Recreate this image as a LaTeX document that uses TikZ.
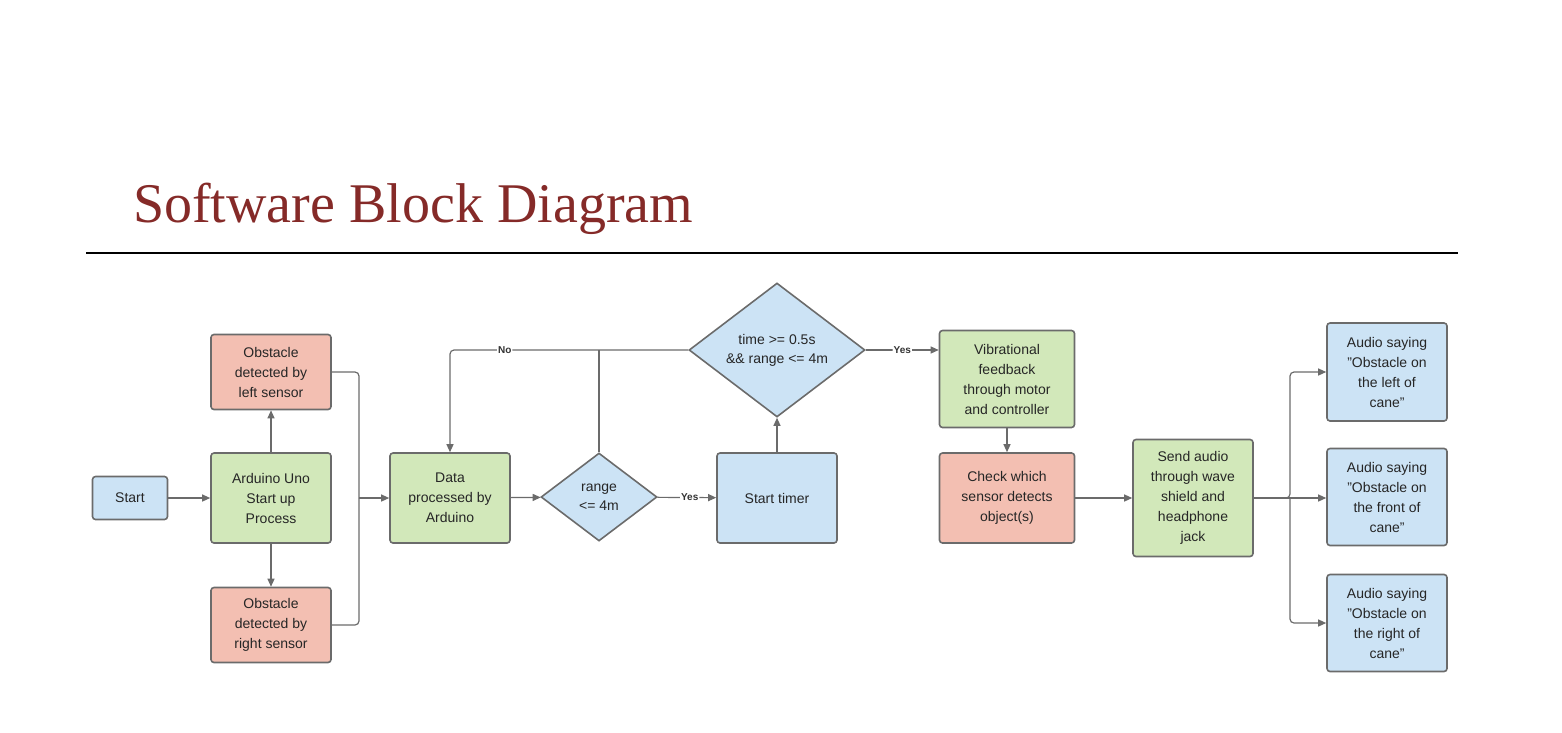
\documentclass[tikz,border=0pt]{standalone}
\usepackage{fontspec}
\setmainfont{Liberation Sans}
\newfontfamily\titlefont{Liberation Serif}
\usetikzlibrary{shapes.geometric,arrows.meta}
\definecolor{bl}{HTML}{CCE3F5}
\definecolor{gr}{HTML}{D2E8BA}
\definecolor{rd}{HTML}{F3BFB2}
\definecolor{ln}{HTML}{6B6B6B}
\definecolor{tt}{HTML}{852A28}
\begin{document}
\begin{tikzpicture}[x=1pt,y=-1pt,
 box/.style={draw=ln,line width=1.6pt,rounded corners=3pt,minimum width=120pt,minimum height=90pt,align=center,font=\fontsize{14}{20}\selectfont,text=black!85},
 dia/.style={draw=ln,line width=1.6pt,diamond,align=center,font=\fontsize{14}{19}\selectfont,inner sep=0pt,text=black!85},
 arr/.style={draw=ln,line width=1.2pt,-{Triangle[length=8pt,width=7pt]},rounded corners=4pt},
 ln/.style={draw=ln,line width=1.2pt,rounded corners=4pt},
 lab/.style={fill=white,font=\fontsize{10}{12}\selectfont\bfseries,inner sep=1pt,text=black!80}]
\useasboundingbox (0,0) rectangle (1562,732);
\node[anchor=base west,text=tt,font=\titlefont\fontsize{56}{60}\selectfont,inner sep=0pt] (title) at (133,222) {Software Block Diagram};
\draw[line width=1.2pt] (86,253) -- (1458,253);
\node[box,fill=bl,minimum width=75pt,minimum height=43pt] (start) at (130,498) {Start};
\node[box,fill=gr] (ard) at (271,498) {Arduino Uno\\Start up\\Process};
\node[box,fill=rd,minimum height=75pt] (ls) at (271,372) {Obstacle\\detected by\\left sensor};
\node[box,fill=rd,minimum height=75pt] (rs) at (271,625) {Obstacle\\detected by\\right sensor};
\node[box,fill=gr] (data) at (450,498) {Data\\processed by\\Arduino};
\node[dia,fill=bl,minimum width=116pt,minimum height=88pt] (rng) at (599,497) {range\\<= 4m};
\node[box,fill=bl] (tim) at (777,498) {Start timer};
\node[dia,fill=bl,minimum width=176pt,minimum height=118pt] (td) at (777,350) {time >= 0.5s\\\&\& range <= 4m};
\node[box,fill=gr,minimum width=135pt,minimum height=97pt] (vib) at (1007,379) {Vibrational\\feedback\\through motor\\and controller};
\node[box,fill=rd,minimum width=135pt] (chk) at (1007,498) {Check which\\sensor detects\\object(s)};
\node[box,fill=gr,minimum height=117pt] (snd) at (1193,498) {Send audio\\through wave\\shield and\\headphone\\jack};
\node[box,fill=bl,minimum height=98pt] (al) at (1387,372) {Audio saying\\"Obstacle on\\the left of\\cane"};
\node[box,fill=bl,minimum height=97pt] (af) at (1387,497) {Audio saying\\"Obstacle on\\the front of\\cane"};
\node[box,fill=bl,minimum height=97pt] (ar) at (1387,623) {Audio saying\\"Obstacle on\\the right of\\cane"};
\draw[arr] (start) -- (ard);
\draw[arr] (ard) -- (ls);
\draw[arr] (ard) -- (rs);
\draw[ln] (ls.east) -- (359,372) -- (359,498);
\draw[ln] (rs.east) -- (359,625) -- (359,498);
\draw[arr] (359,498) -- (data.west);
\draw[arr] (data) -- (rng);
\draw[arr] (rng) -- node[lab,pos=0.55]{Yes} (tim);
\draw[ln] (rng.north) -- (599,350);
\draw[arr] (td.west) -- (450,350) node[lab,pos=0.77]{No} -- (data.north);
\draw[arr] (tim) -- (td);
\draw[arr] (td.east) -- node[lab,pos=0.5]{Yes} (vib.west |- td.east);
\draw[arr] (vib) -- (chk);
\draw[arr] (chk) -- (snd);
\draw[arr] (snd.east) -- (1290,498) |- (al.west);
\draw[arr] (snd.east) -- (af.west |- snd.east);
\draw[arr] (1290,498) |- (ar.west);
\end{tikzpicture}
\end{document}
